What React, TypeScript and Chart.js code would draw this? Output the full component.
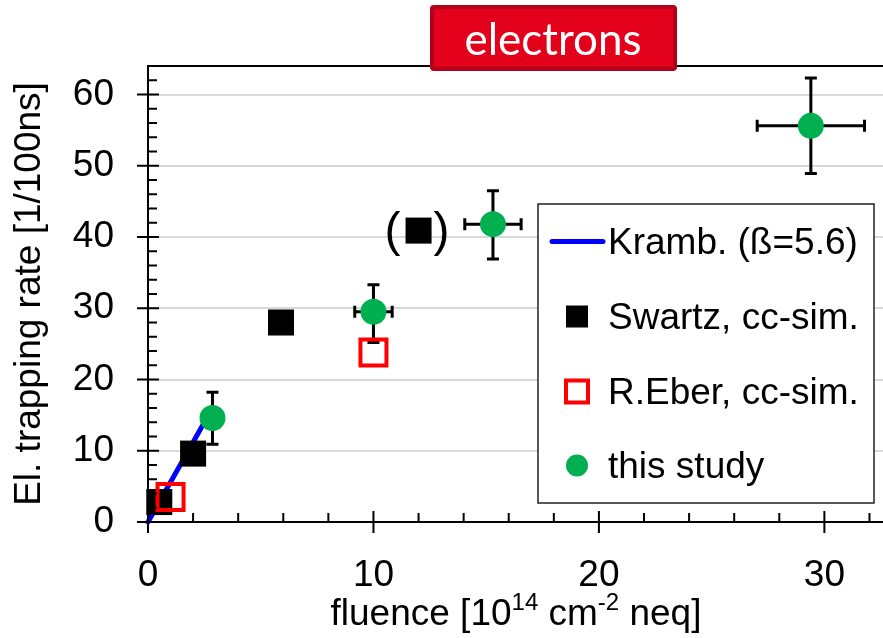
import React, { useEffect, useRef } from 'react';
import { Chart, registerables } from 'chart.js';

Chart.register(...registerables);

// Kramberger prediction: trapping rate = beta * fluence, beta = 5.6
const krambFluence = [0, 2.6];
const krambRate = [0, 14.56];

// Swartz, charge-collection simulation
const swartzFluence = [0.5, 2.0, 5.9, 12.0];
const swartzRate = [2.8, 9.6, 28.0, 40.9];

// R.Eber, charge-collection simulation
const eberFluence = [1.0, 10.0];
const eberRate = [3.5, 23.8];

// this study, with asymmetric rate errors and fluence errors
const studyFluence = [2.86, 10.0, 15.3, 29.4];
const studyRate = [14.6, 29.5, 41.8, 55.6];
const studyRateErrPlus = [3.6, 3.8, 4.7, 6.7];
const studyRateErrMinus = [3.7, 4.3, 4.9, 6.7];
const studyFluenceErr = [0, 0.83, 1.25, 2.38];

const xMajorTicks = [0, 10, 20, 30];
const yMajorTicks = [0, 10, 20, 30, 40, 50, 60];
const xRange = [0, 32.6];
const yRange = [0, 64];
const minorStep = 2;

const legendLabels = ['Kramb. (ß=5.6)', 'Swartz, cc-sim.', 'R.Eber, cc-sim.', 'this study'];
const panelTitle = 'electrons';
const yTitle = 'El. trapping rate [1/100ns]';
// pieces of the x title; true marks a superscript
const xTitleParts: [string, boolean][] = [
  ['fluence [10', false],
  ['14', true],
  [' cm', false],
  ['-2', true],
  [' neq]', false],
];
const bracketedSwartz = 3; // Swartz point put in parentheses

const FONT = "'Liberation Sans', Arial, sans-serif";
const BLUE = '#0000FF';
const RED = '#FF0000';
const GREEN = '#00B050';
const GRID = '#D9D9D9';

const toPoints = (xs: number[], ys: number[]) => xs.map((x, i) => ({ x, y: ys[i] }));

const decorPlugin = {
  id: 'decor',
  beforeDatasetsDraw(chart: any) {
    const { ctx } = chart;
    const xs = chart.scales.x;
    const ys = chart.scales.y;
    ctx.save();
    ctx.strokeStyle = '#000';
    ctx.lineWidth = 3;
    const cap = 6;
    studyFluence.forEach((f, i) => {
      const px = xs.getPixelForValue(f);
      const py = ys.getPixelForValue(studyRate[i]);
      const top = ys.getPixelForValue(studyRate[i] + studyRateErrPlus[i]);
      const bot = ys.getPixelForValue(studyRate[i] - studyRateErrMinus[i]);
      ctx.beginPath();
      ctx.moveTo(px, top);
      ctx.lineTo(px, bot);
      ctx.moveTo(px - cap, top);
      ctx.lineTo(px + cap, top);
      ctx.moveTo(px - cap, bot);
      ctx.lineTo(px + cap, bot);
      if (studyFluenceErr[i] > 0) {
        const l = xs.getPixelForValue(f - studyFluenceErr[i]);
        const r = xs.getPixelForValue(f + studyFluenceErr[i]);
        ctx.moveTo(l, py);
        ctx.lineTo(r, py);
        ctx.moveTo(l, py - cap);
        ctx.lineTo(l, py + cap);
        ctx.moveTo(r, py - cap);
        ctx.lineTo(r, py + cap);
      }
      ctx.stroke();
    });
    ctx.restore();
  },
  afterDraw(chart: any) {
    const { ctx, chartArea: area } = chart;
    const xs = chart.scales.x;
    const ys = chart.scales.y;
    ctx.save();

    // top frame
    const topY = ys.getPixelForValue(yRange[1]);
    ctx.strokeStyle = '#000';
    ctx.lineWidth = 2;
    ctx.beginPath();
    ctx.moveTo(area.left - 1, topY);
    ctx.lineTo(area.right, topY);
    ctx.stroke();

    // y tick marks: major cross the axis, minor point inward
    ctx.beginPath();
    const ax = area.left;
    for (let k = 0; k * minorStep < yRange[1]; k++) {
      const v = k * minorStep;
      const py = ys.getPixelForValue(v);
      if (yMajorTicks.includes(v)) {
        ctx.moveTo(ax - 11, py);
        ctx.lineTo(ax + 11, py);
      } else {
        ctx.moveTo(ax, py);
        ctx.lineTo(ax + 9, py);
      }
    }
    // x tick marks
    const ay = area.bottom;
    for (let k = 0; k * minorStep <= xRange[1]; k++) {
      const v = k * minorStep;
      const px = xs.getPixelForValue(v);
      if (xMajorTicks.includes(v)) {
        ctx.moveTo(px, ay - 11);
        ctx.lineTo(px, ay + 11);
      } else {
        ctx.moveTo(px, ay);
        ctx.lineTo(px, ay - 9);
      }
    }
    ctx.stroke();

    // parentheses around the uncertain Swartz point
    const bx = xs.getPixelForValue(swartzFluence[bracketedSwartz]);
    const by = ys.getPixelForValue(swartzRate[bracketedSwartz]);
    ctx.fillStyle = '#000';
    ctx.font = `48px ${FONT}`;
    ctx.textBaseline = 'middle';
    ctx.textAlign = 'right';
    ctx.fillText('(', bx - 18, by + 2);
    ctx.textAlign = 'left';
    ctx.fillText(')', bx + 15, by + 2);

    // legend
    const lgX = 538, lgY = 204, lgW = 336, lgH = 299;
    ctx.fillStyle = '#fff';
    ctx.fillRect(lgX, lgY, lgW, lgH);
    ctx.strokeStyle = '#222';
    ctx.lineWidth = 1.5;
    ctx.strokeRect(lgX, lgY, lgW, lgH);
    const rowY = [241.5, 316.5, 391.5, 465.5];
    const mx = 577;
    // line swatch
    ctx.strokeStyle = BLUE;
    ctx.lineWidth = 5;
    ctx.lineCap = 'round';
    ctx.beginPath();
    ctx.moveTo(552, rowY[0]);
    ctx.lineTo(603, rowY[0]);
    ctx.stroke();
    ctx.lineCap = 'butt';
    // filled square
    ctx.fillStyle = '#000';
    ctx.fillRect(mx - 11, rowY[1] - 11, 22, 22);
    // open square
    ctx.strokeStyle = RED;
    ctx.lineWidth = 4;
    ctx.strokeRect(mx - 11, rowY[2] - 11, 22, 22);
    // circle
    ctx.fillStyle = GREEN;
    ctx.beginPath();
    ctx.arc(mx, rowY[3], 11, 0, Math.PI * 2);
    ctx.fill();
    ctx.fillStyle = '#000';
    ctx.font = `37px ${FONT}`;
    ctx.textAlign = 'left';
    ctx.textBaseline = 'alphabetic';
    legendLabels.forEach((t, i) => ctx.fillText(t, 608, rowY[i] + 12.5));

    // x axis title with superscripts
    const mainFont = `37px ${FONT}`;
    const supFont = `24px ${FONT}`;
    let total = 0;
    xTitleParts.forEach(([t, sup]) => {
      ctx.font = sup ? supFont : mainFont;
      total += ctx.measureText(t).width;
    });
    let tx = 516 - total / 2;
    const base = 625;
    xTitleParts.forEach(([t, sup]) => {
      ctx.font = sup ? supFont : mainFont;
      ctx.fillText(t, tx, sup ? base - 15 : base);
      tx += ctx.measureText(t).width;
    });

    // panel title box
    const tbX = 430, tbY = 5, tbW = 247, tbH = 66;
    ctx.fillStyle = '#E2001A';
    ctx.beginPath();
    ctx.roundRect(tbX, tbY, tbW, tbH, 4);
    ctx.fill();
    ctx.strokeStyle = '#B2001C';
    ctx.lineWidth = 4;
    ctx.beginPath();
    ctx.roundRect(tbX + 2, tbY + 2, tbW - 4, tbH - 4, 3);
    ctx.stroke();
    ctx.fillStyle = '#fff';
    ctx.font = `45px Lato, 'Open Sans', sans-serif`;
    ctx.textAlign = 'center';
    const w = ctx.measureText(panelTitle).width;
    const target = 177;
    ctx.translate(tbX + tbW / 2 - 0.5, 55);
    ctx.scale(target / w, 1);
    ctx.fillText(panelTitle, 0, 0);
    ctx.restore();
  },
};

export default function App() {
  const canvasRef = useRef<HTMLCanvasElement | null>(null);

  useEffect(() => {
    const canvas = canvasRef.current;
    if (!canvas) return;
    const tickFont = { family: FONT, size: 37 };
    const chart = new Chart(canvas, {
      type: 'scatter',
      data: {
        datasets: [
          {
            label: legendLabels[0],
            data: toPoints(krambFluence, krambRate),
            showLine: true,
            borderColor: BLUE,
            borderWidth: 5,
            borderCapStyle: 'round',
            pointRadius: 0,
            pointHoverRadius: 0,
            order: 4,
            clip: false,
          },
          {
            label: legendLabels[1],
            data: toPoints(swartzFluence, swartzRate),
            pointStyle: 'rect',
            pointRadius: 18.4,
            pointHoverRadius: 18.4,
            pointBackgroundColor: '#000',
            pointBorderWidth: 0,
            order: 3,
            clip: false,
          },
          {
            label: legendLabels[2],
            data: toPoints(eberFluence, eberRate),
            pointStyle: 'rect',
            pointRadius: 18.4,
            pointHoverRadius: 18.4,
            pointBackgroundColor: 'rgba(0,0,0,0)',
            pointBorderColor: RED,
            pointBorderWidth: 4,
            order: 2,
            clip: false,
          },
          {
            label: legendLabels[3],
            data: toPoints(studyFluence, studyRate),
            pointStyle: 'circle',
            pointRadius: 13,
            pointHoverRadius: 13,
            pointBackgroundColor: GREEN,
            pointBorderWidth: 0,
            order: 1,
            clip: false,
          },
        ],
      } as any,
      options: {
        responsive: false,
        animation: false,
        devicePixelRatio: 1,
        events: [],
        layout: { autoPadding: false, padding: { top: 66, left: 0, right: 0, bottom: 0 } },
        plugins: { legend: { display: false }, tooltip: { enabled: false } },
        scales: {
          x: {
            type: 'linear',
            min: xRange[0],
            max: xRange[1],
            afterFit: (s: any) => {
              s.height = 116;
              s.paddingLeft = 0;
              s.paddingRight = 0;
            },
            afterBuildTicks: (s: any) => { s.ticks = xMajorTicks.map((value) => ({ value })); },
            grid: { display: false, drawTicks: false },
            border: { display: true, color: '#000', width: 2 },
            ticks: { color: '#000', font: tickFont, padding: 32, maxRotation: 0, autoSkip: false },
          },
          y: {
            type: 'linear',
            min: yRange[0],
            max: yRange[1],
            afterFit: (s: any) => {
              s.width = 148;
              s.paddingTop = 0;
              s.paddingBottom = 0;
            },
            afterBuildTicks: (s: any) => { s.ticks = yMajorTicks.map((value) => ({ value })); },
            grid: {
              color: (c: any) => (c.tick && c.tick.value > 0 ? GRID : 'rgba(0,0,0,0)'),
              lineWidth: 2,
              drawTicks: false,
            },
            border: { display: true, color: '#000', width: 2 },
            ticks: { color: '#000', font: tickFont, padding: 34, autoSkip: false },
            title: {
              display: true,
              text: yTitle,
              color: '#000',
              font: { family: FONT, size: 37 },
              padding: { top: 8, bottom: 0 },
            },
          },
        },
      } as any,
      plugins: [decorPlugin],
    });
    return () => chart.destroy();
  }, []);

  return (
    <div style={{ position: 'fixed', left: 0, top: 0, width: 883, height: 638, background: '#fff' }}>
      <canvas ref={canvasRef} width={883} height={638} />
    </div>
  );
}
